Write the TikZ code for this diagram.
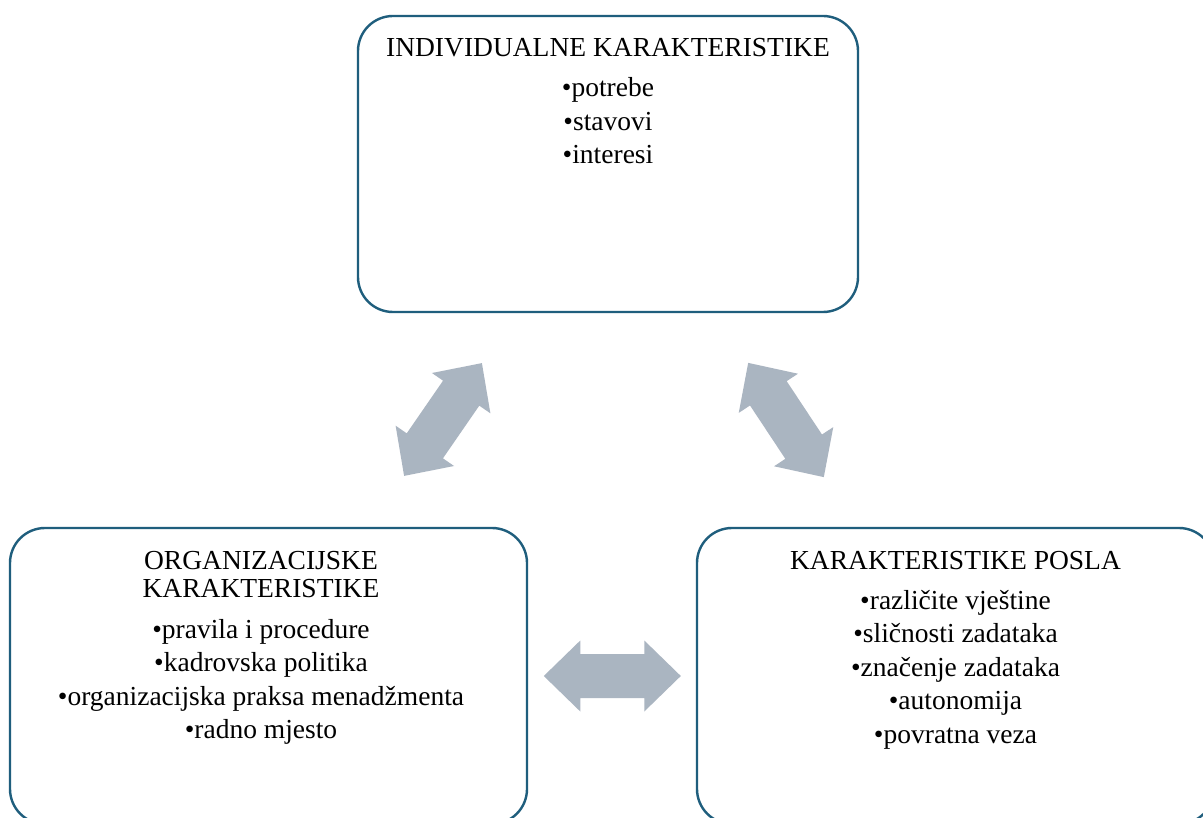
\documentclass[tikz,border=0pt]{standalone}
\usepackage{fontspec}
\setmainfont{Liberation Serif}
\definecolor{boxline}{RGB}{31,94,125}
\definecolor{arrowfill}{RGB}{170,181,193}
\tikzset{
  box/.style={draw=boxline, line width=2.4pt, rounded corners=35pt, fill=white,
    minimum width=#1, minimum height=296pt, inner sep=0pt, outer sep=0pt},
  txt/.style={anchor=base, inner sep=0pt, font=\fontsize{27.5}{34}\selectfont},
  dblarrow/.pic={
    \fill[arrowfill] (-68.5,0) -- (-32,35.5) -- (-32,22) -- (32,22) -- (32,35.5)
      -- (68.5,0) -- (32,-35.5) -- (32,-22) -- (-32,-22) -- (-32,-35.5) -- cycle;
  }
}
\begin{document}
\begin{tikzpicture}[x=1pt,y=-1pt]
\useasboundingbox (0,0) rectangle (1203,818);
\clip (0,0) rectangle (1203,818);
\fill[white] (0,0) rectangle (1203,818);

% boxes
\node[box=500pt] (ind) at (608,164) {};
\node[box=517pt] (org) at (268.5,676) {};
\node[box=517pt] (pos) at (955.5,676) {};

% top box text
\node[txt] (indT) at (608,57) {INDIVIDUALNE KARAKTERISTIKE};
\node[txt] (ind1) at (608,97) {•potrebe};
\node[txt] (ind2) at (608,130.5) {•stavovi};
\node[txt] (ind3) at (608,164) {•interesi};

% left box text
\node[txt] (orgT1) at (261,569) {ORGANIZACIJSKE};
\node[txt] (orgT2) at (261,597) {KARAKTERISTIKE};
\node[txt] (org1) at (261,638) {•pravila i procedure};
\node[txt] (org2) at (261,671.5) {•kadrovska politika};
\node[txt] (org3) at (261,705) {•organizacijska praksa menadžmenta};
\node[txt] (org4) at (261,738.5) {•radno mjesto};

% right box text
\node[txt] (posT) at (955.5,569) {KARAKTERISTIKE POSLA};
\node[txt] (pos1) at (955.5,609) {•različite vještine};
\node[txt] (pos2) at (955.5,642.5) {•sličnosti zadataka};
\node[txt] (pos3) at (955.5,676) {•značenje zadataka};
\node[txt] (pos4) at (955.5,709.5) {•autonomija};
\node[txt] (pos5) at (955.5,743) {•povratna veza};

% block arrows
\pic[rotate=55.4] at (443,419.5) {dblarrow};
\pic[rotate=-56.5] at (786,420) {dblarrow};
\pic at (612.3,676) {dblarrow};
\end{tikzpicture}
\end{document}
